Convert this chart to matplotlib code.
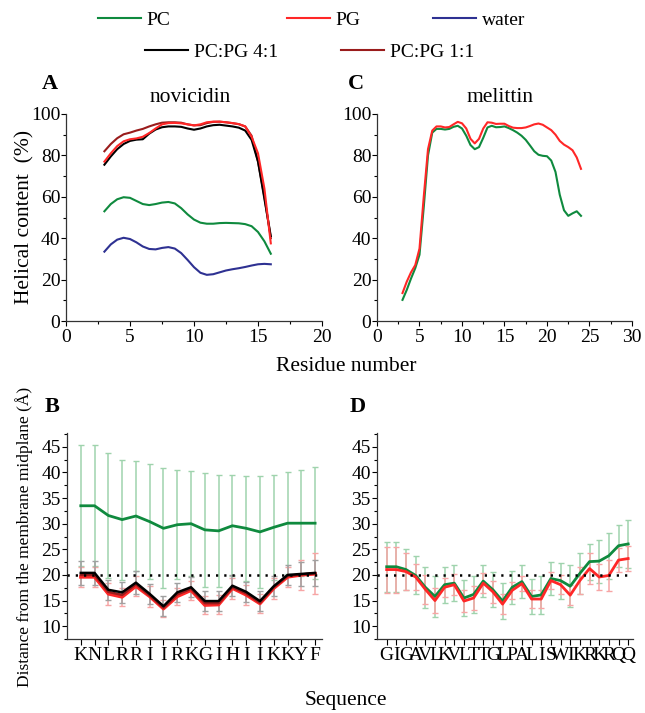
import matplotlib.pyplot as plt
from matplotlib.ticker import MultipleLocator
from matplotlib.lines import Line2D

# ---- data ----
# panel A: novicidin helical content vs residue number
res_A = [3, 3.5, 4, 4.5, 5, 5.5, 6, 6.5, 7, 7.5, 8, 8.5, 9, 9.5, 10, 10.5,
         11, 11.5, 12, 12.5, 13, 13.5, 14, 14.5, 15, 15.5, 16]
nov_PC = [53, 56.5, 58.8, 59.8, 59.5, 58, 56.5, 56, 56.5, 57.2, 57.5, 56.8, 54.5,
          51.5, 49, 47.5, 47, 47, 47.3, 47.4, 47.3, 47.2, 46.8, 45.8, 43, 38.5, 32.5]
nov_PG = [77, 81, 84.5, 86.8, 87.8, 88.2, 89, 90.8, 93, 95, 95.6, 95.7, 95.5,
          95, 94.5, 95, 96, 96.3, 96.3, 96, 95.6, 95.1, 94, 89, 81, 64, 37.5]
nov_water = [33.5, 37, 39.3, 40.2, 39.6, 38, 36, 34.8, 34.6, 35.3, 35.7, 35, 32.8,
             29.5, 26, 23.3, 22.3, 22.6, 23.5, 24.4, 25, 25.5, 26.1, 26.8, 27.4, 27.6, 27.4]
nov_41 = [75.5, 79.5, 83, 85.5, 87, 87.6, 87.8, 90.5, 92.5, 93.6, 94, 94, 93.8,
          93, 92.4, 93, 94, 94.6, 94.8, 94.4, 94, 93.4, 92, 87.5, 77, 59, 41]
nov_11 = [82, 85.5, 88.3, 90.2, 91, 92, 92.8, 94, 95, 95.8, 96, 96, 95.8,
          95, 94.5, 94.6, 95.6, 96.2, 96.3, 96, 95.6, 95.1, 94, 89.5, 77, 60, 40]

# panel C: melittin helical content
res_C = [3, 3.5, 4, 4.5, 5, 5.5, 6, 6.5, 7, 7.5, 8, 8.5, 9, 9.5, 10, 10.5, 11,
         11.5, 12, 12.5, 13, 13.5, 14, 14.5, 15, 15.5, 16, 16.5, 17, 17.5, 18,
         18.5, 19, 19.5, 20, 20.5, 21, 21.5, 22, 22.5, 23, 23.5, 24]
mel_PC = [10.2, 15, 20.5, 25.5, 32, 55, 80, 91, 92.8, 92.8, 92.5, 92.8, 93.8,
          94.3, 93, 89.5, 85, 83, 84, 88.5, 93.5, 94.3, 93.6, 93.7, 94, 93.2,
          92.2, 91, 89.5, 87.5, 84.8, 82, 80.3, 79.8, 79.6, 77.5, 72, 61, 53.5,
          50.8, 52, 53, 50.8]
mel_PG = [13.5, 19, 23.5, 27, 35, 60, 83, 92, 94, 94, 93.5, 93.7, 95, 96.2,
          95.5, 93, 88, 85.8, 88, 93, 96, 95.8, 95.2, 95.3, 95.3, 94.2, 93.4,
          93.2, 93.2, 93.5, 94.2, 95, 95.4, 94.8, 93.5, 92.2, 90, 87, 85.2, 84,
          82.5, 79, 73.5]

# panel B: novicidin insertion depth
seq_B = list("KNLRRIIRKGIHIIKKYF")
dep_B_PC = [33.5, 33.5, 31.6, 30.8, 31.5, 30.4, 29.1, 29.8, 30.0, 28.8, 28.6,
            29.6, 29.1, 28.4, 29.3, 30.1, 30.1, 30.1]
err_B_PC = [11.8, 11.8, 12.1, 11.7, 10.8, 11.2, 11.7, 10.6, 10.3, 11.15, 11.0,
            9.9, 10.3, 11.0, 10.3, 10.0, 10.3, 10.9]
dep_B_41 = [20.4, 20.4, 17.1, 16.6, 18.5, 16.3, 13.9, 16.6, 17.6, 14.9, 14.9,
            17.9, 16.7, 14.9, 17.8, 20.0, 20.2, 20.4]
err_B_41 = [2.4, 2.4, 2.0, 2.0, 2.2, 2.0, 1.9, 1.9, 2.0, 1.9, 1.9, 2.0, 2.0,
            1.9, 2.0, 2.0, 2.4, 2.6]
dep_B_11 = [20.0, 20.0, 16.7, 16.1, 18.2, 16.0, 13.6, 16.2, 17.3, 14.5, 14.5,
            17.6, 16.4, 14.6, 17.6, 19.8, 20.1, 20.3]
dep_B_PG = [19.6, 19.6, 16.3, 15.7, 17.8, 15.8, 13.4, 15.8, 17.0, 14.1, 14.2,
            17.4, 16.1, 14.4, 17.4, 19.6, 20.0, 20.2]
err_B_PG = [2.0, 2.0, 2.2, 1.8, 1.9, 2.0, 1.7, 1.7, 1.9, 1.8, 1.8, 2.0, 2.0,
            1.9, 2.0, 2.0, 3.0, 4.0]

# panel D: melittin insertion depth
seq_D = list("GIGAVLKVLTTGLPALISWIKRKRQQ")
dep_D_PC = [21.6, 21.6, 21.05, 19.9, 17.6, 15.8, 18.1, 18.4, 15.5, 16.2, 18.8,
            17.1, 14.9, 17.6, 18.7, 15.8, 16.1, 19.3, 18.9, 17.8, 20.3, 22.6,
            22.7, 23.75, 25.7, 26.05]
err_D_PC = [4.85, 4.85, 4.05, 3.7, 4.0, 3.95, 3.5, 3.5, 3.6, 3.55, 3.15, 3.4,
            3.5, 3.2, 3.2, 3.5, 3.65, 3.25, 3.5, 4.15, 4.0, 3.5, 4.2, 4.45, 4.1, 4.75]
dep_D_PG = [21.05, 21.05, 20.65, 19.6, 17.2, 15.0, 17.6, 18.1, 14.9, 15.5, 18.4,
            16.7, 14.3, 17.0, 18.3, 15.3, 15.3, 18.9, 18.1, 16.05, 18.9, 21.25,
            19.6, 19.9, 22.9, 23.2]
err_D_PG = [4.5, 4.5, 3.6, 2.6, 2.8, 2.4, 1.9, 2.0, 2.2, 2.3, 1.9, 2.1, 2.0,
            1.6, 1.5, 1.8, 1.7, 1.7, 1.8, 1.9, 2.6, 3.1, 2.6, 3.0, 2.3, 2.5]

c_PC = '#0f8a3e'
c_PG = '#ff2727'
c_water = '#2e3192'
c_41 = '#000000'
c_11 = '#9a1c1c'

W, H = 645, 713
plt.rcParams['font.family'] = ['Liberation Serif', 'DejaVu Serif']

fig = plt.figure(figsize=(W / 100, H / 100), dpi=100)


def box(l, t, r, b):
    return [l / W, 1 - b / H, (r - l) / W, (b - t) / H]


def fx(x):
    return x / W


def fy(y):
    return 1 - y / H


def style(ax):
    for s in ['top', 'right']:
        ax.spines[s].set_visible(False)
    for s in ['left', 'bottom']:
        ax.spines[s].set_linewidth(0.9)
        ax.spines[s].set_color('#333333')
    ax.tick_params(which='both', direction='out', labelsize=14, width=0.8)
    ax.tick_params(which='major', length=3.5)
    ax.tick_params(which='minor', length=2)
    ax.tick_params(axis='y', pad=0.5)
    ax.tick_params(axis='x', pad=2)


# ---- panel A ----
axA = fig.add_axes(box(66, 114, 322, 321))
axA.plot(res_A, nov_PC, color=c_PC, lw=1.5)
axA.plot(res_A, nov_water, color=c_water, lw=1.5)
axA.plot(res_A, nov_11, color=c_11, lw=1.5)
axA.plot(res_A, nov_41, color=c_41, lw=1.5)
axA.plot(res_A, nov_PG, color=c_PG, lw=1.5)
axA.set_xlim(0, 20)
axA.set_ylim(0, 100)
axA.xaxis.set_major_locator(MultipleLocator(5))
axA.xaxis.set_minor_locator(MultipleLocator(2.5))
axA.yaxis.set_major_locator(MultipleLocator(20))
axA.yaxis.set_minor_locator(MultipleLocator(10))
style(axA)

# ---- panel C ----
axC = fig.add_axes(box(377, 114, 632, 321))
axC.plot(res_C, mel_PC, color=c_PC, lw=1.5)
axC.plot(res_C, mel_PG, color=c_PG, lw=1.5)
axC.set_xlim(0, 30)
axC.set_ylim(0, 100)
axC.xaxis.set_major_locator(MultipleLocator(5))
axC.xaxis.set_minor_locator(MultipleLocator(2.5))
axC.yaxis.set_major_locator(MultipleLocator(20))
axC.yaxis.set_minor_locator(MultipleLocator(10))
style(axC)


def depth_panel(ax, seq, series):
    pos = list(range(1, len(seq) + 1))
    for vals, errs, col, ecol, lw in series:
        if errs is not None:
            ax.errorbar(pos, vals, yerr=errs, fmt='none', ecolor=ecol,
                        elinewidth=1.1, capsize=2.5, capthick=1.0, zorder=1)
    for vals, errs, col, ecol, lw in series:
        ax.plot(pos, vals, color=col, lw=lw, zorder=3)
    ax.axhline(20, color='black', lw=1.8, ls=(0, (0.9, 2.4)), zorder=4)
    ax.set_xlim(0, len(seq) + 0.5)
    ax.set_ylim(7.5, 47.7)
    ax.set_xticks(pos)
    ax.set_xticklabels(seq)
    ax.yaxis.set_major_locator(MultipleLocator(5))
    ax.yaxis.set_minor_locator(MultipleLocator(2.5))
    style(ax)
    ax.tick_params(axis='x', length=4, pad=2, labelsize=14)
    ax.tick_params(axis='y', pad=1)


# ---- panel B ----
axB = fig.add_axes(box(67, 433, 322, 639))
depth_panel(axB, seq_B, [
    (dep_B_PC, err_B_PC, c_PC, '#9fd3ad', 2.0),
    (dep_B_PG, err_B_PG, c_PG, '#f7a5a5', 2.4),
    (dep_B_11, None, c_11, None, 1.8),
    (dep_B_41, err_B_41, c_41, '#a0a0a0', 1.8),
])

# ---- panel D ----
axD = fig.add_axes(box(377, 433, 633, 639))
depth_panel(axD, seq_D, [
    (dep_D_PC, err_D_PC, c_PC, '#9fd3ad', 2.0),
    (dep_D_PG, err_D_PG, c_PG, '#f7a5a5', 2.0),
])

# ---- texts ----
fig.text(fx(50), fy(84), 'A', fontsize=16, fontweight='bold', ha='center', va='center')
fig.text(fx(356), fy(84), 'C', fontsize=16, fontweight='bold', ha='center', va='center')
fig.text(fx(52), fy(407), 'B', fontsize=16, fontweight='bold', ha='center', va='center')
fig.text(fx(358), fy(407), 'D', fontsize=16, fontweight='bold', ha='center', va='center')
fig.text(fx(190), fy(97), 'novicidin', fontsize=15.5, ha='center', va='center')
fig.text(fx(500), fy(97), 'melittin', fontsize=15.5, ha='center', va='center')
fig.text(fx(346), fy(366), 'Residue number', fontsize=15.5, ha='center', va='center')
fig.text(fx(25), fy(217), 'Helical content  (%)', fontsize=15.5, rotation=90,
         ha='center', va='center')
fig.text(fx(346), fy(700), 'Sequence', fontsize=15.5, ha='center', va='center')
fig.text(fx(24), fy(537), 'Distance from the membrane midplane (Å)', fontsize=12.5,
         rotation=90, ha='center', va='center')

# ---- legend ----
entries = [
    ('PC', c_PC, 98, 20), ('PG', c_PG, 287, 20), ('water', c_water, 433, 20),
    ('PC:PG 4:1', c_41, 145, 52), ('PC:PG 1:1', c_11, 341, 52),
]
for name, col, x, y in entries:
    h = Line2D([], [], color=col, lw=1.5)
    fig.legend([h], [name], loc='center left', bbox_to_anchor=(fx(x), fy(y)),
               frameon=False, fontsize=14, handlelength=2.2, handletextpad=0.3,
               borderpad=0, borderaxespad=0)

fig.savefig('out.png', dpi=100)
